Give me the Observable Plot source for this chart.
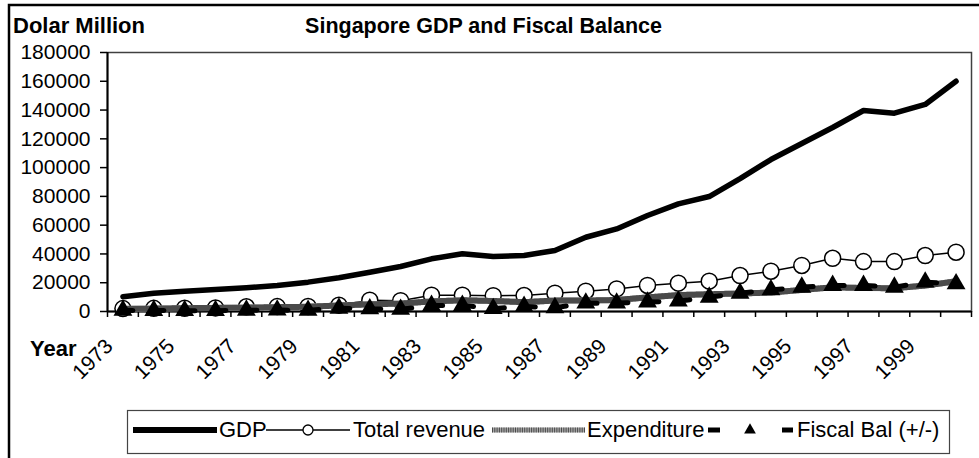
<!DOCTYPE html>
<html>
<head>
<meta charset="utf-8">
<script src="https://cdn.jsdelivr.net/npm/d3@7"></script>
<script src="https://cdn.jsdelivr.net/npm/@observablehq/plot@0.6"></script>
<style>
  html, body { margin: 0; padding: 0; background: #fff; }
  #chart { position: relative; width: 979px; height: 458px; overflow: hidden; background: #fff; font-family: "Liberation Sans", Arial, sans-serif; }
  #chart > svg { position: absolute; left: 0; top: 0; }
</style>
</head>
<body>
<div id="chart"></div>
<script>
// ---- data ----
const years = [1973, 1974, 1975, 1976, 1977, 1978, 1979, 1980, 1981, 1982, 1983, 1984, 1985, 1986,
               1987, 1988, 1989, 1990, 1991, 1992, 1993, 1994, 1995, 1996, 1997, 1998, 1999, 2000];
const gdp = [10300, 12700, 14100, 15300, 16500, 18000, 20400, 23400, 27300, 31300, 36600, 40100, 38200, 38900,
             42400, 51600, 57400, 66700, 74800, 79900, 92400, 105600, 116800, 127900, 139700, 137800, 143900, 160000];
const revenue = [2000, 2200, 2300, 2500, 3300, 3400, 3500, 4400, 7900, 7500, 11300, 11300, 11000, 11100,
                 12700, 14100, 15700, 18100, 19700, 21100, 25000, 28000, 32000, 37000, 34700, 34700, 38900, 41200];
const expenditure = [1800, 2000, 2300, 2500, 2700, 3000, 3300, 4200, 5000, 5500, 7000, 7800, 7300, 6500,
                     7600, 7600, 8000, 9800, 11400, 12000, 12500, 13200, 15000, 16800, 16300, 16200, 18000, 21000];
const fiscal = [800, 700, 600, 600, 900, 1000, 800, 2300, 1800, 1500, 4200, 4200, 2000, 3500,
                2600, 5800, 5800, 6500, 7200, 9900, 12700, 15000, 16900, 18100, 18100, 16900, 20400, 19200];
const yTicks = [0, 20000, 40000, 60000, 80000, 100000, 120000, 140000, 160000, 180000];
const labelYears = [1973, 1975, 1977, 1979, 1981, 1983, 1985, 1987, 1989, 1991, 1993, 1995, 1997, 1999];
const seriesNames = ["GDP", "Total revenue", "Expenditure", "Fiscal Bal (+/-)"];
const titleText = "Singapore GDP and Fiscal Balance";
const yTitle = "Dolar Million";
const xTitle = "Year";

const rows = years.map((year, i) => ({year, gdp: gdp[i], revenue: revenue[i], expenditure: expenditure[i], fiscal: fiscal[i]}));
// category boundaries for the x tick marks (ticks sit between categories)
const boundaries = d3.range(years[0] - 0.5, years[years.length - 1] + 1, 1);

const font = "'Liberation Sans', Arial, sans-serif";
const chart = document.getElementById("chart");

const plot = Plot.plot({
  width: 979,
  height: 400,
  marginLeft: 107,
  marginRight: 8,
  marginTop: 52,
  marginBottom: 89,
  style: {fontFamily: font, background: "transparent", color: "black", overflow: "visible"},
  x: {domain: [years[0] - 0.5, years[years.length - 1] + 0.5], label: null},
  y: {domain: [0, 180000], label: null},
  marks: [
    Plot.frame({stroke: "#404040", strokeWidth: 1.5}),
    Plot.axisY(yTicks, {tickSize: 7, tickPadding: 10, fontSize: 21, tickFormat: d3.format("d"), stroke: "black", strokeWidth: 1.5, fill: "black"}),
    Plot.axisX(boundaries, {tickSize: 6, tickFormat: () => "", stroke: "black", strokeWidth: 1.5}),
    Plot.text(labelYears, {x: d => d, y: d => 0, text: d => String(d), rotate: -45, textAnchor: "end", lineAnchor: "bottom", dx: -9, dy: 36, fontSize: 21, fill: "black"}),
    Plot.ruleX([years[0] - 0.5], {stroke: "black", strokeWidth: 2}),
    Plot.ruleY([0], {stroke: "black", strokeWidth: 2}),
    // GDP
    Plot.line(rows, {x: "year", y: "gdp", stroke: "black", strokeWidth: 5.5}),
    // Total revenue
    Plot.line(rows, {x: "year", y: "revenue", stroke: "black", strokeWidth: 1.5}),
    Plot.dot(rows, {x: "year", y: "revenue", r: 8, stroke: "black", fill: "white", strokeWidth: 1.5}),
    // Expenditure (hatched grey band)
    Plot.line(rows, {x: "year", y: "expenditure", stroke: "#a8a8a8", strokeWidth: 6}),
    Plot.line(rows, {x: "year", y: "expenditure", stroke: "#4a4a4a", strokeWidth: 6, strokeDasharray: "1,1.3"}),
    // Fiscal balance
    Plot.line(rows, {x: "year", y: "fiscal", stroke: "black", strokeWidth: 5, strokeDasharray: "10,21"}),
    Plot.dot(rows, {x: "year", y: "fiscal", symbol: "triangle", r: 7, fill: "black", stroke: "none"})
  ]
});
chart.appendChild(plot);

// ---- overlay: border, titles and legend ----
const svg = d3.select(chart).append("svg")
  .attr("width", 979).attr("height", 458)
  .style("pointer-events", "none")
  .attr("font-family", font);

svg.append("rect").attr("x", 9).attr("y", 5).attr("width", 1000).attr("height", 1000)
  .attr("fill", "none").attr("stroke", "black").attr("stroke-width", 2.5);

svg.append("text").attr("x", 483.5).attr("y", 33).attr("text-anchor", "middle")
  .attr("font-weight", "bold").attr("font-size", 21.5).text(titleText);
svg.append("text").attr("x", 13).attr("y", 33)
  .attr("font-weight", "bold").attr("font-size", 22).text(yTitle);
svg.append("text").attr("x", 30).attr("y", 356)
  .attr("font-weight", "bold").attr("font-size", 22).text(xTitle);

// legend
const lg = svg.append("g");
lg.append("rect").attr("x", 127.5).attr("y", 410.5).attr("width", 822).attr("height", 43)
  .attr("fill", "white").attr("stroke", "#444").attr("stroke-width", 1.2);
const ly = 430;
const ty = 437;
const fs = 22;
// GDP
lg.append("line").attr("x1", 133).attr("x2", 217).attr("y1", ly).attr("y2", ly).attr("stroke", "black").attr("stroke-width", 6);
lg.append("text").attr("x", 219).attr("y", ty).attr("font-size", fs).text(seriesNames[0]);
// Total revenue
lg.append("line").attr("x1", 266).attr("x2", 350).attr("y1", ly).attr("y2", ly).attr("stroke", "black").attr("stroke-width", 1.3);
lg.append("circle").attr("cx", 308).attr("cy", ly).attr("r", 5).attr("fill", "white").attr("stroke", "black").attr("stroke-width", 1.3);
lg.append("text").attr("x", 353).attr("y", ty).attr("font-size", fs).text(seriesNames[1]);
// Expenditure
lg.append("line").attr("x1", 492).attr("x2", 585).attr("y1", ly).attr("y2", ly).attr("stroke", "#a8a8a8").attr("stroke-width", 5);
lg.append("line").attr("x1", 492).attr("x2", 585).attr("y1", ly).attr("y2", ly).attr("stroke", "#4a4a4a").attr("stroke-width", 5).attr("stroke-dasharray", "1,1.3");
lg.append("text").attr("x", 587).attr("y", ty).attr("font-size", fs).text(seriesNames[2]);
// Fiscal balance
lg.append("line").attr("x1", 708).attr("x2", 720).attr("y1", ly).attr("y2", ly).attr("stroke", "black").attr("stroke-width", 5);
lg.append("path").attr("d", d3.symbol(d3.symbolTriangle, 60)()).attr("transform", `translate(750,${ly})`).attr("fill", "black");
lg.append("line").attr("x1", 782).attr("x2", 793).attr("y1", ly).attr("y2", ly).attr("stroke", "black").attr("stroke-width", 5);
lg.append("text").attr("x", 797).attr("y", ty).attr("font-size", fs).text(seriesNames[3]);
</script>
</body>
</html>
